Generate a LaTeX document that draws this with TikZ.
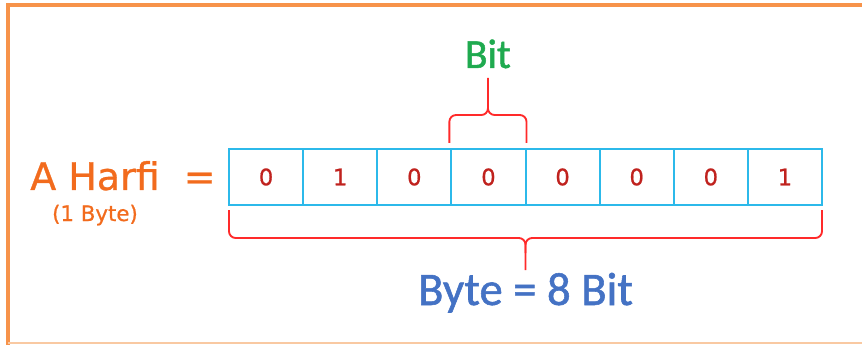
\documentclass[tikz,border=0pt]{standalone}
\usepackage{fontspec}
\setmainfont{Carlito}[FakeBold=1.2]
\newfontfamily\verd{DejaVu Sans}[FakeBold=0.8]
\usetikzlibrary{positioning,calc}

\definecolor{harfi}{HTML}{F26B1D}
\definecolor{bitgreen}{HTML}{1FAA4F}
\definecolor{byteblue}{HTML}{4472C4}
\definecolor{cellcyan}{HTML}{2CB9EA}
\definecolor{bracered}{HTML}{FF2A2A}
\definecolor{digitred}{HTML}{C0221E}
\definecolor{frameorange}{HTML}{F7934A}
\definecolor{framelight}{HTML}{F9C9A2}

\begin{document}
\begin{tikzpicture}[
		x=0.75pt, y=-0.75pt,
		every node/.style={inner sep=0pt, outer sep=0pt},
		cell/.style={draw=cellcyan, line width=1.5pt, minimum width=55.6pt, minimum height=42pt, anchor=north west, text=digitred, font=\verd\fontsize{17}{20}\selectfont},
		bracket/.style={draw=bracered, line width=1.4pt, rounded corners=5pt}
	]
  \useasboundingbox (0,0) rectangle (862,345);
  % frame
  \draw[frameorange, line width=2.6pt] (8,345) -- (8,5) -- (862,5);
  \draw[framelight, line width=1.5pt] (8,343) -- (862,343);
  % the eight bits
  \foreach \b [count=\i] in {0,1,0,0,0,0,0,1}
    \node[cell] (c\i) at ({229+74.125*(\i-1)}, 149) {\b};
  % left label
  \node (harfi) [anchor=base, text=harfi, font=\verd\fontsize{28.5}{32}\selectfont] at (95,190) {A Harfi};
  \node (eq) [text=harfi, font=\verd\fontsize{28.5}{32}\selectfont, right=24 of harfi.base east, anchor=base west] {=};
  \node (onebyte) [anchor=base, text=harfi, font=\verd\fontsize{16}{19}\selectfont] at (95,221) {(1 Byte)};
  % brace over one bit
  \coordinate (bit l) at ($(c4.north west)+(-2,-6)$);
  \coordinate (bit r) at ($(c4.north east)+(1,-6)$);
  \coordinate (bit mid) at ($(bit l)!0.5!(bit r)+(0,-28)$);
  \coordinate (bit tip) at ($(bit mid)+(0,-37)$);
  \draw[bracket] (bit l) |- (bit mid) -- (bit tip);
  \draw[bracket] (bit r) |- (bit mid) -- ++(0,-15);
  \node (bit) [anchor=base, text=bitgreen, font=\fontsize{31}{34}\selectfont] at ($(bit tip)+(0,-10)$) {Bit};
  % brace under the byte
  \coordinate (byte l) at ($(c1.south west)+(0,5)$);
  \coordinate (byte r) at ($(c8.south east)+(0,5)$);
  \coordinate (byte mid) at ($(byte l)!0.5!(byte r)+(0,28)$);
  \coordinate (byte tip) at ($(byte mid)+(0,32)$);
  \draw[bracket] (byte l) |- (byte mid) -- (byte tip);
  \draw[bracket] (byte r) |- (byte mid) -- ++(0,15);
  \node (byte) [anchor=base, text=byteblue, font=\fontsize{35}{38}\selectfont] at ($(byte tip)+(0,35)$) {Byte = 8 Bit};
\end{tikzpicture}
\end{document}
